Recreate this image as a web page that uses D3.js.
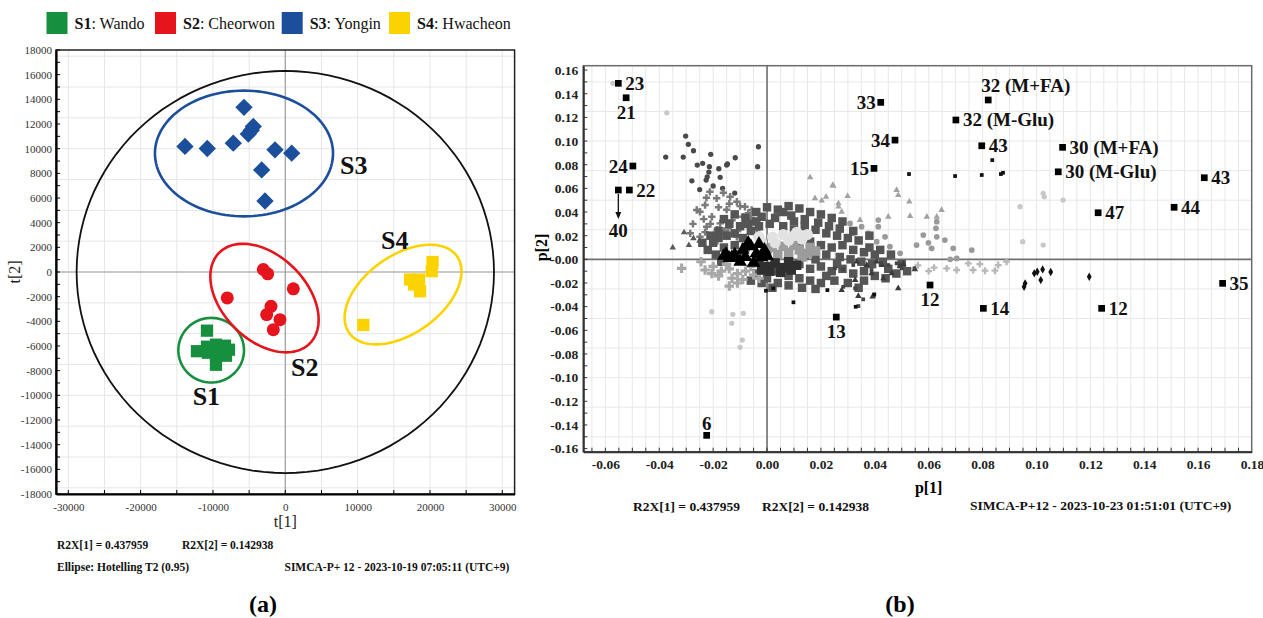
<!DOCTYPE html>
<html>
<head>
<meta charset="utf-8">
<script src="https://cdn.jsdelivr.net/npm/d3@7"></script>
<style>
  body { margin: 0; background: #fff; }
  svg { display: block; font-family: "Liberation Serif", "Times New Roman", serif; }
</style>
</head>
<body>
<div id="chart"></div>
<script>
// ---------- (a) PCA score plot ----------
const groupIds = ["S1", "S2", "S3", "S4"];
const groupNames = ["Wando", "Cheorwon", "Yongin", "Hwacheon"];

const scoresS1 = [[-10830,-4756],[-12213,-6423],[-10830,-6057],[-9585,-5894],[-8340,-5976],
  [-7787,-6301],[-9585,-6789],[-9585,-7520],[-8202,-6789],[-10692,-6545]];
const scoresS2 = [[-3043,203],[-2434,-146],[1107,-1366],[-8022,-2098],[-1978,-2780],
  [-2573,-3455],[-733,-3862],[-1660,-4675]];
const scoresS3 = [[-5712,13350],[-13873,10179],[-10788,10016],[-7192,10447],[-4426,11805],
  [-5118,11179],[-4700,11500],[-1425,9902],[885,9634],[-3264,8276],[-2808,5756]];
const scoresS4 = [[10788,-4293],[20360,813],[20249,65],[17248,-610],[18493,-610],
  [18631,-1561],[17800,-1016]];

// group confidence ellipses: centre and two semi-axis vectors (score units)
const ellipseCentre = [[-10249,-6341],[-2877,-2114],[-5712,9610],[16279,-1829]];
const ellipseAxisA  = [[4537,0],[6259,-3679],[12310,0],[7455,3106]];
const ellipseAxisB  = [[0,2618],[-4108,-2415],[0,5098],[3112,-2585]];
const hotellingAxes = [28850, 16300];

const scoreXTicks = [-30000,-20000,-10000,0,10000,20000,30000];
const scoreYTicks = [18000,16000,14000,12000,10000,8000,6000,4000,2000,0,-2000,-4000,-6000,
  -8000,-10000,-12000,-14000,-16000,-18000];

// ---------- (b) loading plot ----------
const namedIds = ["23","21","24","40","22","6","13","33","32 (M+FA)","32 (M-Glu)","34","43",
  "30 (M+FA)","15","30 (M-Glu)","43","44","47","35","12","14","12"];
const namedP1 = [-0.0552,-0.0523,-0.0498,-0.0552,-0.0511,-0.0224,0.0257,0.0422,0.0821,0.0701,
  0.0475,0.0797,0.1097,0.0397,0.1081,0.1623,0.1511,0.1229,0.1691,0.0605,0.0803,0.1242];
const namedP2 = [0.1488,0.1366,0.0789,0.0586,0.0586,-0.1488,-0.0488,0.1327,0.1347,0.1178,
  0.1008,0.0960,0.0947,0.0769,0.0740,0.0690,0.0440,0.0394,-0.0203,-0.0217,-0.0414,-0.0414];

const cloudDarkCircles = [[-0.0302,0.1042],[-0.0292,0.0972],[-0.0273,0.0918],[-0.0376,0.0865],
  [-0.0311,0.0865],[-0.0209,0.0888],[-0.0118,0.0859],[-0.0032,0.0952],[-0.0035,0.0783],
  [-0.0259,0.0797],[-0.0239,0.0812],[-0.0214,0.0783],[-0.0216,0.0738],[-0.0222,0.0698],
  [-0.0279,0.0664],[-0.0147,0.0806],[-0.0179,0.0766],[-0.0226,0.0670],[-0.0150,0.0797],
  [-0.0174,0.0693],[-0.0200,0.0620],[-0.0165,0.0600],[-0.0120,0.0560],[-0.0250,0.0590]];
const cloudMidPlus = [[-0.0212,0.0571],[-0.0187,0.0516],[-0.0162,0.0563],[-0.0137,0.0529],
  [-0.0112,0.0487],[-0.0082,0.0445],[-0.0057,0.0417],[-0.0230,0.0459],[-0.0249,0.0402],
  [-0.0261,0.0417],[-0.0205,0.0360],[-0.0174,0.0304],[-0.0144,0.0262],[-0.0224,0.0276],
  [-0.0249,0.0191],[-0.0193,0.0135],[-0.0112,0.0191],[-0.0075,0.0304],[-0.0199,0.0205],
  [-0.0038,0.0248],[-0.0150,0.0420],[-0.0120,0.0380],[-0.0090,0.0360],[-0.0180,0.0440],
  [-0.0100,0.0260],[-0.0060,0.0350],[-0.0275,0.0300],[-0.0160,0.0240],[-0.0130,0.0330],
  [-0.0040,0.0320],[-0.0225,0.0520],[-0.0100,0.0450],[-0.0210,0.0300],[-0.0235,0.0340],
  [-0.0185,0.0250],[-0.0140,0.0470],[-0.0070,0.0390],[-0.0285,0.0220],[-0.0230,0.0230]];
const cloudDarkSquares = [[-0.004,0.040],[0.000,0.044],[0.004,0.042],[0.008,0.045],[0.012,0.043],
  [0.016,0.040],[0.020,0.038],[0.024,0.035],[-0.002,0.036],[0.003,0.035],[0.009,0.037],
  [0.014,0.034],[0.019,0.031],[0.023,0.028],[0.027,0.026],[-0.007,0.030],[-0.003,0.028],
  [0.001,0.030],[0.018,0.025],[0.022,0.022],[0.026,0.020],[0.030,0.018],[0.034,0.016],
  [-0.018,0.024],[-0.015,0.020],[-0.012,0.022],[-0.009,0.018],[-0.020,0.014],[-0.016,0.010],
  [-0.012,0.012],[-0.008,0.010],[-0.019,0.004],[-0.014,0.002],[-0.010,0.004],[-0.022,0.008],
  [-0.006,0.024],[-0.010,0.028],[-0.014,0.030],[0.012,0.012],[0.016,0.015],[0.020,0.012],
  [0.024,0.010],[0.028,0.012],[0.032,0.008],[0.036,0.006],[0.040,0.004],[0.017,0.006],
  [0.022,0.004],[0.027,0.002],[0.031,0.000],[0.035,-0.002],[0.039,-0.004],[0.043,-0.002],
  [0.012,-0.004],[0.016,-0.008],[0.020,-0.006],[0.024,-0.010],[0.028,-0.008],[0.032,-0.012],
  [0.036,-0.010],[0.040,-0.014],[0.004,-0.010],[0.008,-0.014],[0.012,-0.016],[0.016,-0.018],
  [0.020,-0.020],[0.025,-0.018],[0.030,-0.020],[0.000,-0.016],[0.004,-0.020],[0.008,-0.022],
  [0.013,-0.024],[0.018,-0.025],[-0.004,-0.012],[-0.002,-0.020],[0.045,-0.008],[0.048,-0.012],
  [0.050,-0.004],[-0.016,0.034],[-0.012,0.038],[-0.008,0.035],[-0.004,0.032],[0.006,0.040],
  [0.010,0.032],[0.014,0.028],[0.006,0.028],[0.010,0.025],[-0.018,0.018],[-0.021,0.020],
  [-0.024,0.014],[-0.017,-0.002],[0.038,0.010],[0.042,0.008],[0.046,0.004],[0.044,-0.016],
  [0.036,-0.018],[0.034,-0.024],[0.022,-0.014],[0.026,-0.004],[0.018,0.000],[0.014,0.004],
  [0.002,-0.024],[-0.006,-0.018],[0.052,-0.010],[0.028,0.032],[0.032,0.024],[0.038,0.020]];
const cloudGrayTri = [[-0.0308,0.0228],[-0.0273,0.0178],[-0.0251,0.0156],[-0.0350,0.0100],
  [-0.0290,0.0120]];
const cloudMidBlob = [[0.000,0.006],[0.004,0.004],[0.008,0.006],[0.012,0.008],[0.015,0.005],
  [0.002,0.010],[0.006,0.011],[0.010,0.012],[0.013,0.002],[0.016,0.010],[0.018,0.007]];
const cloudLightBlob = [[-0.002,0.015],[0.002,0.019],[0.006,0.021],[0.010,0.020],[0.013,0.017],
  [0.003,0.014],[0.008,0.016],[0.015,0.021],[0.011,0.023],[-0.003,0.019]];
const cloudDarkBlob = [[-0.003,-0.002],[0.000,-0.006],[0.003,-0.003],[0.006,-0.007],[0.008,-0.002],
  [0.001,-0.010],[0.005,-0.011],[-0.002,-0.009],[0.009,-0.009],[0.011,-0.005]];
const cloudBlackTri = [[-0.012,0.004],[-0.009,0.008],[-0.006,0.011],[-0.003,0.013],[-0.008,0.002],
  [-0.004,0.005],[-0.001,0.008],[-0.010,-0.002],[-0.005,-0.003],[-0.002,0.002],[-0.014,0.001],
  [-0.016,0.003],[-0.007,0.014],[0.000,0.003],[-0.0152,0.0045],[-0.0131,0.0017]];
const cloudLightPlus = [[-0.020,-0.006],[-0.017,-0.010],[-0.014,-0.008],[-0.011,-0.012],
  [-0.008,-0.010],[-0.005,-0.013],[-0.018,-0.014],[-0.013,-0.016],[-0.009,-0.017],[-0.006,-0.006],
  [-0.015,-0.004],[-0.023,-0.009],[-0.003,-0.016],[-0.011,-0.020],[-0.0317,-0.0076],
  [-0.0245,-0.002],[-0.014,-0.0226],[-0.0205,-0.012]];
const cloudPale = [[-0.0205,-0.0443],[-0.0127,-0.0465],[-0.0088,-0.0456],[-0.0131,-0.0541],
  [-0.0092,-0.0682],[-0.0100,-0.0744],[-0.0372,0.1239],[-0.0572,0.1488],[0.0939,0.0445],
  [0.1025,0.0558],[0.1029,0.0529],[0.1099,0.0501],[0.0949,0.0149],[0.1025,0.0121]];
const cloudRightTri = [[0.0160,0.0693],[0.0178,0.0516],[0.0219,0.0529],[0.0246,0.0620],
  [0.0265,0.0473],[0.0277,0.0402],[0.0299,0.0535],[0.0345,0.0332],[0.0450,0.0360],
  [0.0481,0.0586],[0.0487,0.0543],[0.0528,0.0487],[0.0531,0.0366],[0.0593,0.0360],
  [0.0630,0.0360],[0.0648,0.0417],[0.0244,0.0628],[0.0203,0.0496],[0.0265,0.0445]];
const cloudRightCircles = [[0.0308,0.0304],[0.0351,0.0276],[0.0376,0.0220],[0.0413,0.0332],
  [0.0413,0.0276],[0.0438,0.0191],[0.0407,0.0149],[0.0456,0.0107],[0.0494,0.0051],
  [0.0555,0.0121],[0.0580,0.0205],[0.0599,0.0140],[0.0630,0.0318],[0.0627,0.0262],
  [0.0630,0.0191],[0.0660,0.0163],[0.0611,0.0093],[0.0691,0.0093],[0.0704,0.0008],
  [0.0760,0.0079],[0.0680,0.0000],[0.0345,0.0149],[0.0320,0.0220]];
const cloudRightPlus = [[0.0667,-0.0076],[0.0704,-0.0090],[0.0747,-0.0034],[0.0765,-0.0090],
  [0.0790,-0.0040],[0.0809,-0.0096],[0.0846,-0.0096],[0.0889,-0.0020],[0.0858,-0.0048],
  [0.0560,-0.0050],[0.0620,-0.0070],[0.0600,-0.0100]];
const cloudRightDarkTri = [[0.0333,-0.0020],[0.0370,-0.0048],[0.0407,-0.0020],[0.0426,-0.0048],
  [0.0388,-0.0118],[0.0432,-0.0161],[0.0463,-0.0118],[0.0494,-0.0057],[0.0549,-0.0085],
  [0.0487,-0.0245],[0.0327,-0.0175],[0.0277,-0.0260],[0.0339,-0.0310],[0.0392,-0.0316],
  [0.0506,-0.0040]];
const cloudRightDarkSq = [[0.0283,-0.0232],[0.0327,-0.0245],[0.0339,-0.0395],[0.0357,-0.0338],
  [0.0397,-0.0302],[0.0423,-0.0034],[0.0450,-0.0048],[0.0481,-0.0034],[0.0500,-0.0076],
  [0.0547,-0.0076],[0.0388,-0.0090],[0.0320,-0.0048],[0.0283,-0.0085],[0.0252,-0.0076]];
const cloudBlackDots = [[0.0527,0.0721],[0.0698,0.0704],[0.0797,0.0713],[0.0836,0.0839],
  [0.0868,0.0721],[0.0876,0.0732],[-0.0004,-0.0265],[0.0098,-0.0363],[0.0224,-0.0260],
  [0.0023,-0.0245],[0.0329,-0.0401],[0.0398,-0.0296]];
const cloudBlackDiamonds = [[0.0954,-0.0232],[0.0958,-0.0203],[0.0992,-0.0118],[0.1003,-0.0105],
  [0.1016,-0.0175],[0.1023,-0.0085],[0.1053,-0.0107],[0.1196,-0.0147]];

const loadXTicks = [-0.06,-0.04,-0.02,0,0.02,0.04,0.06,0.08,0.10,0.12,0.14,0.16,0.18];
const loadYTicks = [0.16,0.14,0.12,0.10,0.08,0.06,0.04,0.02,0,-0.02,-0.04,-0.06,-0.08,-0.10,
  -0.12,-0.14,-0.16];

// ---------- layout / style (not data) ----------
const groupColors = ["#16903e", "#e5141d", "#1b4f9c", "#fbd300"];
const legendX = [46.5, 155, 281.7, 389];
const groupLabelAt = [[-12808,-10772],[788,-8415],[7566,7927],[13236,1829]];
const namedSide = ["r","b","l","arrow","r","t","b","l","tr","r","l","r","r","l","r","r","r","r",
  "r","b","r","r"];

const svg = d3.select("#chart").append("svg")
  .attr("width", 1263).attr("height", 618);

const fmtHyphen = d => (d < 0 ? "-" : "") + Math.abs(d);

// ===================== panel (a) =====================
let xA = d3.scaleLinear().domain([-31700, 31700]).range([56, 514.6]);
let yA = d3.scaleLinear().domain([-18000, 18000]).range([494, 50]);

let gA = svg.append("g");

// grid
gA.append("g").selectAll("line").data(xA.ticks(12)).join("line")
  .attr("x1", d => xA(d)).attr("x2", d => xA(d))
  .attr("y1", yA(18000)).attr("y2", yA(-18000))
  .attr("stroke", "#e6e6e6").attr("stroke-width", 1);
gA.append("g").selectAll("line").data(d3.range(-17500, 18000, 2500)).join("line")
  .attr("x1", xA.range()[0]).attr("x2", xA.range()[1])
  .attr("y1", d => yA(d)).attr("y2", d => yA(d))
  .attr("stroke", "#e6e6e6").attr("stroke-width", 1);

// zero lines
gA.append("line").attr("x1", xA(0)).attr("x2", xA(0))
  .attr("y1", yA(18000)).attr("y2", yA(-18000)).attr("stroke", "#a0a0a0").attr("stroke-width", 1.2);
gA.append("line").attr("x1", xA.range()[0]).attr("x2", xA.range()[1])
  .attr("y1", yA(0)).attr("y2", yA(0)).attr("stroke", "#a0a0a0").attr("stroke-width", 1.2);

// box
gA.append("rect").attr("x", xA.range()[0]).attr("y", yA(18000))
  .attr("width", xA.range()[1] - xA.range()[0]).attr("height", yA(-18000) - yA(18000))
  .attr("fill", "none").attr("stroke", "#222").attr("stroke-width", 1.5);

// axes
let xAxisA = d3.axisBottom(xA).tickValues(scoreXTicks).tickFormat(fmtHyphen)
  .tickSize(0).tickPadding(9);
let xAxisAGroup = gA.append("g").attr("transform", "translate(0," + yA(-18000) + ")").call(xAxisA);
let yAxisA = d3.axisLeft(yA).tickValues(scoreYTicks).tickFormat(fmtHyphen)
  .tickSize(0).tickPadding(4);
let yAxisAGroup = gA.append("g").attr("transform", "translate(" + xA.range()[0] + ",0)").call(yAxisA);
[xAxisAGroup, yAxisAGroup].forEach(g => {
  g.select(".domain").attr("stroke", "#000").attr("stroke-width", 2.2);
  g.selectAll(".tick text").attr("font-size", 11).attr("fill", "#333")
    .attr("font-family", "Liberation Serif");
});
// inward minor ticks
gA.append("g").selectAll("line").data(xA.ticks(12)).join("line")
  .attr("x1", d => xA(d)).attr("x2", d => xA(d))
  .attr("y1", yA(-18000)).attr("y2", yA(-18000) - 4).attr("stroke", "#000");
gA.append("g").selectAll("line").data(yA.ticks(36)).join("line")
  .attr("x1", xA.range()[0]).attr("x2", xA.range()[0] + 4)
  .attr("y1", d => yA(d)).attr("y2", d => yA(d)).attr("stroke", "#000");

// axis titles
gA.append("text").text("t[1]").attr("x", xA(0)).attr("y", 527)
  .attr("text-anchor", "middle").attr("font-size", 16).attr("fill", "#222");
gA.append("text").text("t[2]").attr("transform", "translate(20," + yA(0) + ") rotate(-90)")
  .attr("text-anchor", "middle").attr("font-size", 16).attr("fill", "#222");

// ellipses
function ellipsePath(c, a, b, x, y) {
  let pts = d3.range(0, 360, 3).map(deg => {
    let t = deg * Math.PI / 180;
    return [x(c[0] + a[0] * Math.cos(t) + b[0] * Math.sin(t)),
            y(c[1] + a[1] * Math.cos(t) + b[1] * Math.sin(t))];
  });
  return d3.line().curve(d3.curveLinearClosed)(pts);
}
gA.append("path")
  .attr("d", ellipsePath([0, 0], [hotellingAxes[0], 0], [0, hotellingAxes[1]], xA, yA))
  .attr("fill", "none").attr("stroke", "#111").attr("stroke-width", 1.8);
groupIds.forEach((g, i) => {
  gA.append("path")
    .attr("d", ellipsePath(ellipseCentre[i], ellipseAxisA[i], ellipseAxisB[i], xA, yA))
    .attr("fill", "none").attr("stroke", groupColors[i]).attr("stroke-width", 2.6);
});

// points
let symSquare = d3.symbol().type(d3.symbolSquare).size(150);
let symRotSquare = d3.symbol().type(d3.symbolSquare).size(150);
gA.append("g").selectAll("path").data(scoresS1).join("path")
  .attr("d", symSquare).attr("transform", d => "translate(" + xA(d[0]) + "," + yA(d[1]) + ")")
  .attr("fill", groupColors[0]);
gA.append("g").selectAll("circle").data(scoresS2).join("circle")
  .attr("cx", d => xA(d[0])).attr("cy", d => yA(d[1])).attr("r", 6.5)
  .attr("fill", groupColors[1]);
gA.append("g").selectAll("path").data(scoresS3).join("path")
  .attr("d", symRotSquare)
  .attr("transform", d => "translate(" + xA(d[0]) + "," + yA(d[1]) + ") rotate(45)")
  .attr("fill", groupColors[2]);
gA.append("g").selectAll("path").data(scoresS4).join("path")
  .attr("d", symSquare).attr("transform", d => "translate(" + xA(d[0]) + "," + yA(d[1]) + ")")
  .attr("fill", groupColors[3]);

// group labels
groupIds.forEach((g, i) => {
  gA.append("text").text(g)
    .attr("x", xA(groupLabelAt[i][0])).attr("y", yA(groupLabelAt[i][1]))
    .attr("font-size", 26).attr("font-weight", "bold").attr("fill", "#111");
});

// legend
groupIds.forEach((g, i) => {
  let lg = svg.append("g");
  lg.append("rect").attr("x", legendX[i]).attr("y", 12).attr("width", 21).attr("height", 22)
    .attr("fill", groupColors[i]);
  let t = lg.append("text").attr("x", legendX[i] + 28).attr("y", 29)
    .attr("font-size", 16).attr("fill", "#111");
  t.append("tspan").attr("font-weight", "bold").text(g);
  t.append("tspan").text(": " + groupNames[i]);
});

// footer (a)
let footA = svg.append("g").attr("font-size", 11.5).attr("font-weight", "bold").attr("fill", "#111");
footA.append("text").attr("x", 57).attr("y", 549).text("R2X[1] = 0.437959");
footA.append("text").attr("x", 182).attr("y", 549).text("R2X[2] = 0.142938");
footA.append("text").attr("x", 57).attr("y", 571).text("Ellipse: Hotelling T2 (0.95)");
footA.append("text").attr("x", 284.5).attr("y", 571).text("SIMCA-P+ 12 - 2023-10-19 07:05:11 (UTC+9)");
svg.append("text").attr("x", 263).attr("y", 612).attr("text-anchor", "middle")
  .attr("font-size", 24).attr("font-weight", "bold").text("(a)");

// ===================== panel (b) =====================
let xB = d3.scaleLinear().domain([-0.0682, 0.1799]).range([583.3, 1251.7]);
let yB = d3.scaleLinear().domain([-0.1626, 0.1637]).range([451.7, 65.7]);
let gB = svg.append("g");

// grid
gB.append("g").selectAll("line").data(d3.range(-0.065, 0.18, 0.005)).join("line")
  .attr("x1", d => xB(d)).attr("x2", d => xB(d))
  .attr("y1", yB.range()[0]).attr("y2", yB.range()[1])
  .attr("stroke", "#e8e8e8").attr("stroke-width", 1);
gB.append("g").selectAll("line").data(d3.range(-0.15, 0.16, 0.025)).join("line")
  .attr("x1", xB.range()[0]).attr("x2", xB.range()[1])
  .attr("y1", d => yB(d)).attr("y2", d => yB(d))
  .attr("stroke", "#e8e8e8").attr("stroke-width", 1);

// zero lines
gB.append("line").attr("x1", xB(0)).attr("x2", xB(0))
  .attr("y1", yB.range()[0]).attr("y2", yB.range()[1]).attr("stroke", "#707070").attr("stroke-width", 1.6);
gB.append("line").attr("x1", xB.range()[0]).attr("x2", xB.range()[1])
  .attr("y1", yB(0)).attr("y2", yB(0)).attr("stroke", "#707070").attr("stroke-width", 1.6);

// box
gB.append("rect").attr("x", xB.range()[0]).attr("y", yB.range()[1])
  .attr("width", xB.range()[1] - xB.range()[0]).attr("height", yB.range()[0] - yB.range()[1])
  .attr("fill", "none").attr("stroke", "#6a6a6a").attr("stroke-width", 1.5);

let fmtLoadX = d => (d < 0 ? "-" : "") + Math.abs(d).toFixed(2);
let fmtLoadY = d => (d <= 0 ? "-" : "") + Math.abs(d).toFixed(2);
let xAxisB = d3.axisBottom(xB).tickValues(loadXTicks).tickFormat(fmtLoadX).tickSize(0).tickPadding(8);
let xAxisBGroup = gB.append("g").attr("transform", "translate(0," + yB.range()[0] + ")").call(xAxisB);
let yAxisB = d3.axisLeft(yB).tickValues(loadYTicks).tickFormat(fmtLoadY).tickSize(0).tickPadding(5);
let yAxisBGroup = gB.append("g").attr("transform", "translate(" + xB.range()[0] + ",0)").call(yAxisB);
[xAxisBGroup, yAxisBGroup].forEach(g => {
  g.select(".domain").attr("stroke", "#333").attr("stroke-width", 2);
  g.selectAll(".tick text").attr("font-size", 13.5).attr("font-weight", "bold").attr("fill", "#222")
    .attr("font-family", "Liberation Serif");
});
gB.append("g").selectAll("line").data(d3.range(-0.065, 0.18, 0.005)).join("line")
  .attr("x1", d => xB(d)).attr("x2", d => xB(d))
  .attr("y1", yB.range()[0]).attr("y2", yB.range()[0] - 4).attr("stroke", "#333");
gB.append("g").selectAll("line").data(d3.range(-0.16, 0.165, 0.01)).join("line")
  .attr("x1", xB.range()[0]).attr("x2", xB.range()[0] + 4)
  .attr("y1", d => yB(d)).attr("y2", d => yB(d)).attr("stroke", "#333");

gB.append("text").text("p[1]").attr("x", xB(0.06)).attr("y", 493)
  .attr("text-anchor", "middle").attr("font-size", 16).attr("font-weight", "bold");
gB.append("text").text("p[2]").attr("transform", "translate(547," + yB(0.01) + ") rotate(-90)")
  .attr("text-anchor", "middle").attr("font-size", 16).attr("font-weight", "bold");

// loading cloud
function drawCloud(data, type, size, fill) {
  let sym = d3.symbol().type(type).size(size);
  gB.append("g").selectAll("path").data(data).join("path")
    .attr("d", sym)
    .attr("transform", d => "translate(" + xB(d[0]) + "," + yB(d[1]) + ")")
    .attr("fill", fill);
}
drawCloud(cloudPale, d3.symbolCircle, 22, "#c8c8c8");
drawCloud(cloudRightPlus, d3.symbolCross, 26, "#b8b8b8");
drawCloud(cloudRightTri, d3.symbolTriangle, 18, "#a2a2a2");
drawCloud(cloudRightCircles, d3.symbolCircle, 26, "#9a9a9a");
drawCloud(cloudDarkCircles, d3.symbolCircle, 22, "#4a4a4a");
drawCloud(cloudMidPlus, d3.symbolCross, 30, "#7a7a7a");
drawCloud(cloudGrayTri, d3.symbolTriangle, 18, "#5a5a5a");
drawCloud(cloudDarkSquares, d3.symbolSquare, 72, "#555555");
drawCloud(cloudRightDarkTri, d3.symbolTriangle, 18, "#3a3a3a");
drawCloud(cloudRightDarkSq, d3.symbolSquare, 14, "#444444");
drawCloud(cloudLightPlus, d3.symbolCross, 50, "#a8a8a8");
drawCloud(cloudMidBlob, d3.symbolSquare, 90, "#9c9c9c");
drawCloud(cloudLightBlob, d3.symbolCircle, 95, "#e2e2e2");
drawCloud(cloudDarkBlob, d3.symbolSquare, 90, "#2f2f2f");
drawCloud(cloudBlackTri, d3.symbolTriangle, 80, "#000");
drawCloud(cloudBlackDots, d3.symbolSquare, 14, "#111");
drawCloud(cloudBlackDiamonds, d3.symbolDiamond, 20, "#111");

// named loadings
let named = namedIds.map((id, i) => ({id: id, p1: namedP1[i], p2: namedP2[i], side: namedSide[i]}));
let symNamed = d3.symbol().type(d3.symbolSquare).size(45);
gB.append("g").selectAll("path").data(named).join("path")
  .attr("d", symNamed)
  .attr("transform", d => "translate(" + xB(d.p1) + "," + yB(d.p2) + ")")
  .attr("fill", "#000");

named.forEach(d => {
  let px = xB(d.p1), py = yB(d.p2);
  let t = gB.append("text").text(d.id).attr("font-size", 19).attr("font-weight", "bold").attr("fill", "#111");
  if (d.side === "r") t.attr("x", px + 7).attr("y", py + 6.5);
  else if (d.side === "l") t.attr("x", px - 5).attr("y", py + 6.5).attr("text-anchor", "end");
  else if (d.side === "b") t.attr("x", px).attr("y", py + 21).attr("text-anchor", "middle");
  else if (d.side === "t") t.attr("x", px).attr("y", py - 5).attr("text-anchor", "middle");
  else if (d.side === "tr") t.attr("x", px - 7).attr("y", py - 8);
  else if (d.side === "arrow") {
    t.attr("x", px).attr("y", py + 47).attr("text-anchor", "middle");
    gB.append("line").attr("x1", px).attr("x2", px).attr("y1", py + 4).attr("y2", py + 25)
      .attr("stroke", "#111").attr("stroke-width", 1.3);
    gB.append("path").attr("d", d3.line()([[px - 3, py + 22], [px + 3, py + 22], [px, py + 29]]))
      .attr("fill", "#111");
  }
});

// footer (b)
let footB = svg.append("g").attr("font-size", 13.5).attr("font-weight", "bold").attr("fill", "#111");
footB.append("text").attr("x", 633).attr("y", 511).text("R2X[1] = 0.437959");
footB.append("text").attr("x", 762).attr("y", 511).text("R2X[2] = 0.142938");
footB.append("text").attr("x", 970).attr("y", 510).text("SIMCA-P+12 - 2023-10-23 01:51:01 (UTC+9)");
svg.append("text").attr("x", 900).attr("y", 612).attr("text-anchor", "middle")
  .attr("font-size", 24).attr("font-weight", "bold").text("(b)");
</script>
</body>
</html>
